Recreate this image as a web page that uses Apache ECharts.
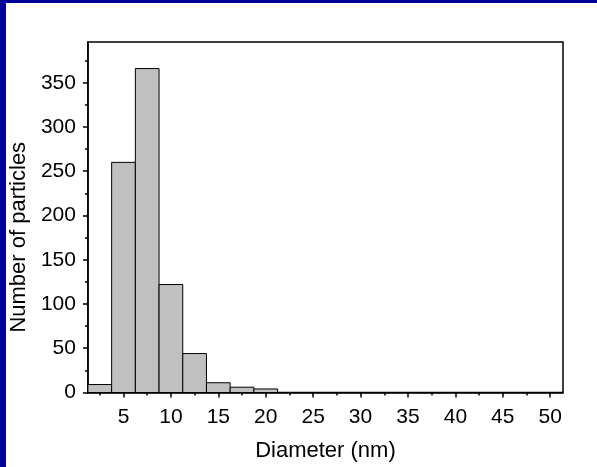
<!DOCTYPE html>
<html>
<head>
<meta charset="utf-8">
<title>Particle size distribution</title>
<script src="https://cdn.jsdelivr.net/npm/echarts@6/dist/echarts.min.js"></script>
<style>
  html, body { margin: 0; padding: 0; background: #ffffff; }
  #chart { width: 597px; height: 467px; }
</style>
</head>
<body>
<div id="chart"></div>
<script>
// Histogram bins: centre diameter (nm) and number of particles in each bin
const binCenters = [2.5, 5, 7.5, 10, 12.5, 15, 17.5, 20];
const counts = [9, 260, 366, 122, 44, 11, 6, 4];
const binWidth = 2.5;

// Axis tick values
const xMajorTicks = [5, 10, 15, 20, 25, 30, 35, 40, 45, 50];
const xMinorTicks = [2.5, 7.5, 12.5, 17.5, 22.5, 27.5, 32.5, 37.5, 42.5, 47.5];
const yMajorTicks = [0, 50, 100, 150, 200, 250, 300, 350];
const yMinorTicks = [25, 75, 125, 175, 225, 275, 325, 375];

const xRange = [1.25, 51.35];
const yRange = [0, 396];

const FONT = 'Liberation Sans, Arial, sans-serif';

const chart = echarts.init(document.getElementById('chart'), null, { renderer: 'canvas' });

const tickStyle = { color: '#000', width: 1.5 };

function majorAxis(kind, ticks, range, name, nameGap, namePadding) {
  return {
    type: 'value',
    min: range[0],
    max: range[1],
    name: name,
    nameLocation: 'middle',
    nameGap: nameGap,
    nameTextStyle: { fontFamily: FONT, fontSize: 22, color: '#000', padding: namePadding },
    axisLine: { show: true, onZero: false, lineStyle: { color: '#000', width: 1.5 } },
    axisTick: { show: true, inside: false, length: 5, customValues: ticks, lineStyle: tickStyle },
    axisLabel: {
      show: true, customValues: ticks, margin: kind === 'x' ? 14 : 12,
      fontFamily: FONT, fontSize: 21, color: '#000'
    },
    splitLine: { show: false },
    minorTick: { show: false }
  };
}

function minorAxis(ticks, range) {
  return {
    type: 'value',
    min: range[0],
    max: range[1],
    axisLine: { show: false, onZero: false },
    axisTick: { show: true, inside: false, length: 3, customValues: ticks, lineStyle: tickStyle },
    axisLabel: { show: false },
    splitLine: { show: false }
  };
}

const option = {
  animation: false,
  backgroundColor: '#ffffff',
  grid: {
    left: 87, right: 34, top: 42, bottom: 74.5,
    show: true, borderColor: '#000', borderWidth: 1.5, backgroundColor: 'transparent'
  },
  xAxis: [
    majorAxis('x', xMajorTicks, xRange, 'Diameter (nm)', 47, 0),
    Object.assign(minorAxis(xMinorTicks, xRange), { position: 'bottom' })
  ],
  yAxis: [
    // title sits a little below the middle of the axis
    majorAxis('y', yMajorTicks, yRange, 'Number of particles', 56, [0, 40, 0, 0]),
    Object.assign(minorAxis(yMinorTicks, yRange), { position: 'left' })
  ],
  graphic: [
    { type: 'rect', left: 0, top: 0, shape: { width: 597, height: 3 }, style: { fill: '#000099' }, z: 100 },
    { type: 'rect', left: 0, top: 0, shape: { width: 6, height: 467 }, style: { fill: '#000099' }, z: 100 }
  ],
  series: [{
    type: 'custom',
    xAxisIndex: 0,
    yAxisIndex: 0,
    data: binCenters.map((c, i) => [c, counts[i]]),
    renderItem: function (params, api) {
      const c = api.value(0);
      const n = api.value(1);
      const p0 = api.coord([c - binWidth / 2, n]);
      const p1 = api.coord([c + binWidth / 2, 0]);
      return {
        type: 'rect',
        shape: { x: p0[0], y: p0[1], width: p1[0] - p0[0], height: p1[1] - p0[1] },
        style: { fill: '#c0c0c0', stroke: '#000', lineWidth: 1 }
      };
    },
    z: 1
  }]
};

chart.setOption(option);
</script>
</body>
</html>
